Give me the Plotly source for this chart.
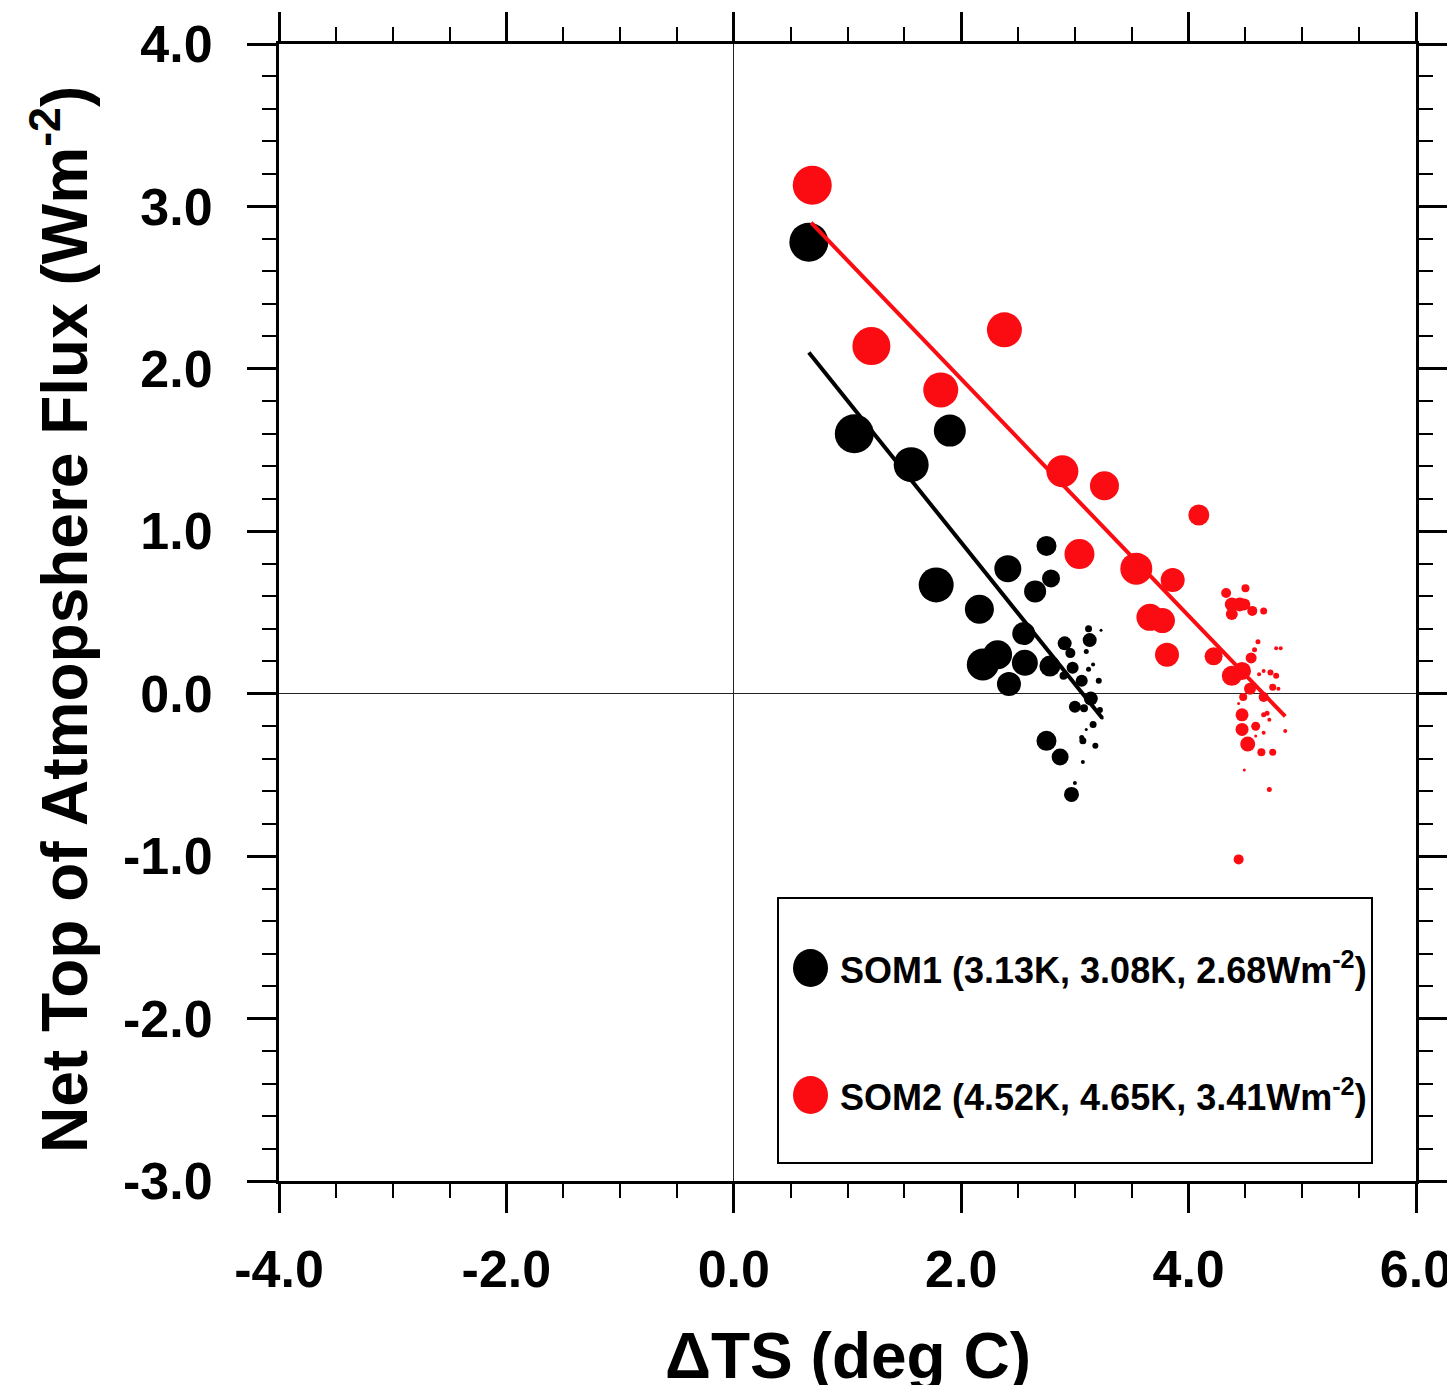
import plotly.graph_objects as go

# SOM1 (black) yearly points: dTS, net TOA flux, marker size
som1_x = [0.66, 1.06, 1.56, 1.90, 1.78, 2.16, 2.41, 2.19, 2.32, 2.56, 2.55, 2.42, 2.75, 2.79, 2.65,
          2.78, 2.75, 2.87, 2.97, 2.91, 2.96, 3.12, 3.23, 3.13, 3.10, 3.16, 3.12, 2.98, 2.90, 3.06,
          3.21, 3.14, 3.00, 3.08, 3.22, 3.24, 3.16, 3.10, 3.06, 3.07, 3.18, 3.07, 3.00]
som1_y = [2.78, 1.60, 1.41, 1.62, 0.67, 0.52, 0.77, 0.18, 0.24, 0.19, 0.37, 0.06, 0.91, 0.71, 0.63,
          0.17, -0.29, -0.39, -0.62, 0.31, 0.25, 0.40, 0.39, 0.33, 0.26, 0.18, 0.15, 0.16, 0.11, 0.08,
          0.08, -0.03, -0.08, -0.09, -0.10, -0.15, -0.19, -0.22, -0.27, -0.29, -0.32, -0.42, -0.55]
som1_s = [39, 39, 35, 32, 35, 29, 27, 32, 29, 26, 23, 24, 20, 18, 22,
          21, 20, 17, 15, 14, 10, 7, 3, 14, 5, 4, 5, 12, 8, 12,
          6, 14, 12, 8, 6, 3, 7, 3, 5, 7, 6, 4, 4]

# SOM2 (red) yearly points
som2_x = [0.69, 1.21, 2.38, 1.82, 2.89, 3.26, 3.04, 4.09, 3.54, 3.86, 3.66, 3.77, 3.81, 4.22, 4.33,
          4.50, 4.38, 4.45, 4.49, 4.38, 4.56, 4.66, 4.61, 4.58, 4.77, 4.81, 4.55, 4.38, 4.47, 4.62,
          4.66, 4.72, 4.77, 4.54, 4.74, 4.79, 4.48, 4.66, 4.44, 4.47, 4.66, 4.69, 4.71, 4.47, 4.59,
          4.85, 4.66, 4.59, 4.52, 4.64, 4.74, 4.49, 4.71, 4.44]
som2_y = [3.13, 2.14, 2.24, 1.87, 1.37, 1.28, 0.86, 1.10, 0.77, 0.70, 0.47, 0.45, 0.24, 0.23, 0.62,
          0.65, 0.55, 0.55, 0.55, 0.49, 0.51, 0.51, 0.32, 0.27, 0.28, 0.28, 0.22, 0.11, 0.14, 0.12,
          0.14, 0.13, 0.11, 0.03, 0.04, 0.03, -0.02, -0.02, -0.06, -0.13, -0.13, -0.12, -0.16, -0.22, -0.20,
          -0.23, -0.24, -0.26, -0.31, -0.36, -0.36, -0.47, -0.59, -1.02]
som2_s = [39, 38, 35, 35, 32, 29, 30, 21, 32, 24, 27, 25, 24, 18, 10,
          8, 14, 14, 12, 12, 10, 7, 5, 5, 4, 4, 11, 20, 18, 4,
          4, 6, 6, 12, 7, 4, 8, 10, 3, 13, 5, 5, 4, 13, 9,
          4, 4, 3, 15, 8, 7, 3, 5, 10]

# regression line end points
som1_fit_x = [0.66, 3.24]
som1_fit_y = [2.10, -0.15]
som2_fit_x = [0.68, 4.85]
som2_fit_y = [2.90, -0.14]

x_ticks = [-4, -2, 0, 2, 4, 6]
x_ticktext = ["-4.0", "-2.0", "0.0", "2.0", "4.0", "6.0"]
y_ticks = [-3, -2, -1, 0, 1, 2, 3, 4]
y_ticktext = ["-3.0", "-2.0", "-1.0", "0.0", "1.0", "2.0", "3.0", "4.0"]

legend_labels = ["SOM1 (3.13K, 3.08K, 2.68Wm<sup>-2</sup>)",
                 "SOM2 (4.52K, 4.65K, 3.41Wm<sup>-2</sup>)"]

RED = "rgb(250,12,18)"
FONT = "Liberation Sans, Arial, Helvetica, sans-serif"

fig = go.Figure()
fig.add_trace(go.Scatter(x=som1_x, y=som1_y, mode="markers",
                         marker=dict(size=som1_s, color="black", opacity=1, line=dict(width=0))))
fig.add_trace(go.Scatter(x=som2_x, y=som2_y, mode="markers",
                         marker=dict(size=som2_s, color=RED, opacity=1, line=dict(width=0))))
fig.add_trace(go.Scatter(x=som1_fit_x, y=som1_fit_y, mode="lines",
                         line=dict(color="black", width=4)))
fig.add_trace(go.Scatter(x=som2_fit_x, y=som2_fit_y, mode="lines",
                         line=dict(color=RED, width=4)))

axis_common = dict(
    showgrid=False, showline=True, linecolor="black", linewidth=3,
    mirror="allticks", ticks="outside", ticklen=29, tickwidth=3, tickcolor="black",
    zeroline=True, zerolinecolor="#222", zerolinewidth=1,
    tickfont=dict(family=FONT, size=52, color="black", weight="bold"),
    tickmode="array", automargin=False,
)

fig.update_xaxes(range=[-4, 6], tickvals=x_ticks, ticktext=x_ticktext, ticklabelstandoff=12,
                 minor=dict(tick0=-4, dtick=0.5, ticks="outside", ticklen=14, tickwidth=2, tickcolor="black"),
                 **axis_common)
fig.update_yaxes(range=[-3, 4], tickvals=y_ticks, ticktext=y_ticktext, ticklabelstandoff=24,
                 minor=dict(tick0=-3, dtick=0.2, ticks="outside", ticklen=14, tickwidth=2, tickcolor="black"),
                 **axis_common)

# page body has an 8px margin, so figure pixel coords = screen coords - 8
OFF = 8
L, T, PW, PH = 279 - OFF, 44 - OFF, 1137, 1137


def px(xp):
    return (xp - OFF - L) / PW


def py(yp):
    return (T + PH - (yp - OFF)) / PH


shapes = [dict(type="rect", xref="paper", yref="paper",
               x0=px(778), x1=px(1372), y0=py(1163), y1=py(898),
               line=dict(color="black", width=2), fillcolor="white", layer="above")]
annotations = []
for lab, col, yc in zip(legend_labels, ["black", RED], [968, 1095]):
    shapes.append(dict(type="circle", xref="paper", yref="paper",
                       x0=px(793), x1=px(828), y0=py(yc + 19), y1=py(yc - 19),
                       fillcolor=col, line=dict(width=0), layer="above"))
    annotations.append(dict(text=lab, xref="paper", yref="paper", x=px(838), y=py(yc),
                            xanchor="left", yanchor="middle", showarrow=False,
                            font=dict(family=FONT, size=36, color="black", weight="bold")))

annotations.append(dict(text="\u0394TS (deg C)", xref="paper", yref="paper",
                        x=px(848), y=py(1356), xanchor="center", yanchor="middle",
                        showarrow=False,
                        font=dict(family=FONT, size=64, color="black", weight="bold")))
annotations.append(dict(text="Net Top of Atmopshere Flux (Wm<sup>-2</sup>)", xref="paper", yref="paper",
                        x=px(60), y=py(620), xanchor="center", yanchor="middle", textangle=-90,
                        showarrow=False,
                        font=dict(family=FONT, size=64, color="black", weight="bold")))

W, H = 1455 - OFF, 1385 - OFF
fig.update_layout(
    width=W, height=H,
    margin=dict(l=L, r=W - L - PW, t=T, b=H - T - PH, autoexpand=False),
    paper_bgcolor="white", plot_bgcolor="white",
    showlegend=False,
    shapes=shapes, annotations=annotations,
)

fig.write_html("out.html")
